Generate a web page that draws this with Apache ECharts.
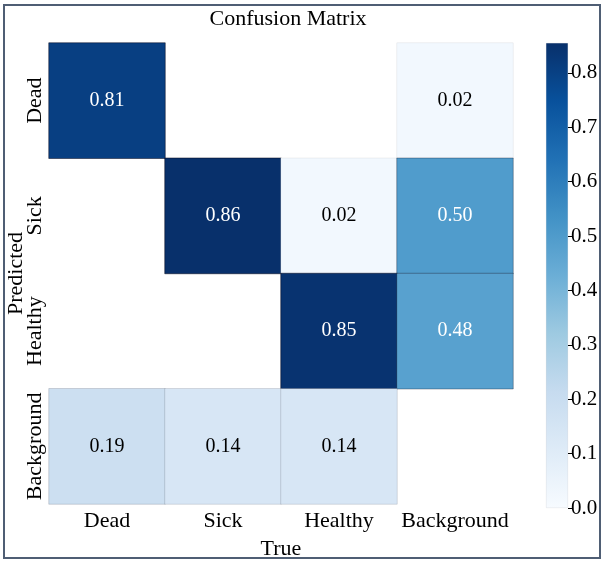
<!DOCTYPE html>
<html><head><meta charset="utf-8">
<script src="https://cdn.jsdelivr.net/npm/echarts@6/dist/echarts.min.js"></script>
<style>html,body{margin:0;padding:0;background:#fff}#c{width:604px;height:561px}</style>
</head><body><div id="c"></div>
<script>
const trueLabels = ['Dead', 'Sick', 'Healthy', 'Background'];
const predLabels = ['Dead', 'Sick', 'Healthy', 'Background'];
const rowDead = [0.81, 0, 0, 0.02];
const rowSick = [0, 0.86, 0.02, 0.50];
const rowHealthy = [0, 0, 0.85, 0.48];
const rowBackground = [0.19, 0.14, 0.14, 0];
const matrixRows = [rowDead, rowSick, rowHealthy, rowBackground];
const colorbarTicks = [0, 0.1, 0.2, 0.3, 0.4, 0.5, 0.6, 0.7, 0.8];
const vmax = 0.86;
const cbMax = 0.855;
const blues = ['#f7fbff','#deebf7','#c6dbef','#9ecae1','#6baed6','#4292c6','#2171b5','#08519c','#08306b'];
const FONT = 'Liberation Serif';

const data = [];
matrixRows.forEach((row, r) => {
  row.forEach((v, c) => {
    if (v > 0) {
      data.push({
        value: [c, r, v],
        itemStyle: { borderColor: 'rgba(0,0,20,' + (0.05 + 0.45 * v / vmax).toFixed(3) + ')' },
        label: { color: v > vmax / 2 ? '#ffffff' : '#000000' }
      });
    }
  });
});

const chart = echarts.init(document.getElementById('c'), null, { renderer: 'canvas' });
chart.setOption({
  backgroundColor: '#fff',
  animation: false,
  title: {
    text: 'Confusion Matrix', left: 283, top: 3, textAlign: 'center',
    textStyle: { fontFamily: FONT, fontSize: 22, fontWeight: 'normal', color: '#000' }
  },
  grid: [
    { left: 49, top: 43, width: 464, height: 461, outerBoundsMode: 'none', containLabel: false },
    { left: 546, top: 43, width: 22, height: 465, outerBoundsMode: 'none', containLabel: false }
  ],
  xAxis: [
    {
      gridIndex: 0, type: 'category', data: trueLabels,
      name: 'True', nameLocation: 'middle', nameGap: 34, nameMoveOverlap: false,
      nameTextStyle: { fontFamily: FONT, fontSize: 22, color: '#000' },
      axisLine: { show: false }, axisTick: { show: false }, splitLine: { show: false },
      axisLabel: { fontFamily: FONT, fontSize: 22, color: '#000', margin: 6, interval: 0 }
    },
    { gridIndex: 1, type: 'category', data: [''], show: false }
  ],
  yAxis: [
    {
      gridIndex: 0, type: 'category', data: predLabels, inverse: true,
      name: 'Predicted', nameLocation: 'middle', nameGap: 22, nameMoveOverlap: false,
      nameTextStyle: { fontFamily: FONT, fontSize: 22, color: '#000' },
      axisLine: { show: false }, axisTick: { show: false }, splitLine: { show: false },
      axisLabel: { fontFamily: FONT, fontSize: 22, color: '#000', rotate: 90, margin: 3, interval: 0 }
    },
    {
      gridIndex: 1, type: 'value', min: 0, max: cbMax, interval: 0.1, position: 'right',
      axisLine: { show: false }, splitLine: { show: false },
      axisTick: { show: true, length: 5, lineStyle: { color: '#000', width: 1 } },
      axisLabel: { fontFamily: FONT, fontSize: 21, color: '#000', margin: 3, showMaxLabel: false,
        formatter: v => colorbarTicks.some(t => Math.abs(t - v) < 1e-6) ? v.toFixed(1) : '' }
    }
  ],
  visualMap: {
    show: false, min: 0, max: vmax, dimension: 2, seriesIndex: 0,
    inRange: { color: blues }
  },
  series: [
    {
      type: 'heatmap', xAxisIndex: 0, yAxisIndex: 0, data: data,
      itemStyle: { borderWidth: 1 },
      label: { show: true, fontFamily: FONT, fontSize: 20,
        formatter: p => p.value[2].toFixed(2) },
      emphasis: { disabled: true }
    },
    {
      type: 'bar', xAxisIndex: 1, yAxisIndex: 1, data: [cbMax], barWidth: '100%',
      itemStyle: {
        color: new echarts.graphic.LinearGradient(0, 1, 0, 0,
          blues.map((c, i) => ({ offset: i / (blues.length - 1), color: c }))),
        borderColor: 'rgba(0,0,30,0.12)', borderWidth: 0.5
      },
      silent: true
    }
  ],
  graphic: [{
    type: 'rect', shape: { x: 4, y: 5, width: 596, height: 553 },
    style: { fill: 'none', stroke: '#4f5e74', lineWidth: 2 }, silent: true
  }]
});
</script></body></html>
